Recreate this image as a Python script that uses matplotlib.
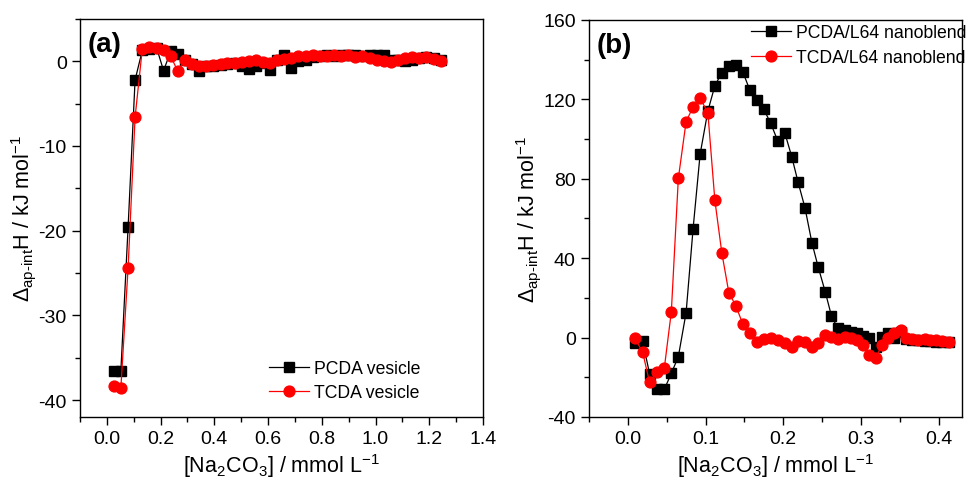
import matplotlib
matplotlib.use("Agg")
import matplotlib.pyplot as plt
from matplotlib.ticker import MultipleLocator, FormatStrFormatter

plt.rcParams["font.family"] = ["Liberation Sans", "DejaVu Sans"]
plt.rcParams["mathtext.fontset"] = "custom"
plt.rcParams["mathtext.rm"] = "Liberation Sans"
plt.rcParams["mathtext.it"] = "Liberation Sans:italic"
plt.rcParams["mathtext.bf"] = "Liberation Sans:bold"
plt.rcParams["axes.unicode_minus"] = False

# ---- panel (a): vesicles ----
conc_a = [0.025, 0.052, 0.079, 0.105, 0.132, 0.158, 0.185, 0.211, 0.238, 0.264,
          0.290, 0.317, 0.343, 0.370, 0.396, 0.423, 0.449, 0.476, 0.502, 0.528,
          0.555, 0.581, 0.608, 0.634, 0.661, 0.687, 0.713, 0.740, 0.766, 0.793,
          0.819, 0.846, 0.872, 0.898, 0.925, 0.951, 0.978, 1.004, 1.031, 1.057,
          1.083, 1.110, 1.136, 1.163, 1.189, 1.216, 1.242]
pcda_vesicle = [-36.6, -36.6, -19.6, -2.2, 1.3, 1.5, 1.6, -1.1, 1.2, 0.9,
                0.2, -0.3, -1.2, -0.6, -0.5, -0.4, -0.3, -0.2, -0.6, -0.9,
                -0.5, -0.2, -1.0, 0.2, 0.8, -0.8, 0.0, 0.2, 0.5, 0.6,
                0.7, 0.6, 0.7, 0.7, 0.8, 0.6, 0.7, 0.8, 0.7, 0.2,
                0.1, 0.0, 0.2, 0.4, 0.5, 0.4, 0.1]
tcda_vesicle = [-38.3, -38.6, -24.4, -6.6, 1.5, 1.7, 1.6, 1.3, 0.6, -1.2,
                0.2, -0.3, -0.5, -0.6, -0.4, -0.3, -0.2, -0.2, -0.1, 0.0,
                0.1, -0.1, -0.2, 0.2, 0.3, 0.4, 0.6, 0.6, 0.7, 0.6,
                0.6, 0.7, 0.6, 0.7, 0.5, 0.6, 0.4, 0.2, 0.0, -0.1,
                0.2, 0.4, 0.5, 0.4, 0.5, 0.3, 0.0]

# ---- panel (b): L64 nanoblends ----
conc_b = [0.009, 0.019, 0.028, 0.037, 0.047, 0.056, 0.065, 0.075, 0.084, 0.093,
          0.103, 0.112, 0.121, 0.130, 0.139, 0.148, 0.157, 0.166, 0.175, 0.184,
          0.193, 0.202, 0.211, 0.219, 0.228, 0.237, 0.245, 0.254, 0.262, 0.270,
          0.279, 0.287, 0.295, 0.303, 0.311, 0.319, 0.327, 0.335, 0.343, 0.351,
          0.358, 0.366, 0.374, 0.382, 0.389, 0.397, 0.405, 0.413]
pcda_blend = [-2.5, -1.7, -18.3, -26.0, -26.0, -18.0, -9.6, 12.6, 54.9, 92.3,
              114.1, 126.8, 133.5, 136.9, 137.4, 133.8, 124.7, 119.7, 115.0, 107.9,
              99.0, 103.2, 91.1, 78.5, 65.4, 47.7, 35.6, 23.2, 11.1, 4.7,
              3.9, 3.0, 2.2, 1.0, -0.3, -4.5, 0.5, 2.2, -0.3, 3.0,
              -0.5, -1.0, -1.2, -1.5, -1.8, -2.0, -2.0, -2.2]
tcda_blend = [-0.3, -7.3, -22.6, -17.2, -15.2, 13.1, 80.2, 108.8, 116.2, 120.6,
              113.3, 69.2, 42.6, 22.7, 16.0, 6.8, 2.5, -2.0, -0.5, -0.3,
              -1.0, -2.8, -4.5, -1.5, -2.0, -4.5, -2.5, 1.4, 0.5, -0.5,
              0.5, -0.3, -1.2, -3.7, -8.7, -10.4, -3.7, -0.3, 2.2, 3.9,
              -0.3, -0.8, -1.0, -0.8, -1.2, -1.0, -1.5, -2.0]

ylabel = r"$\Delta_{\mathrm{ap\text{-}int}}$H / kJ mol$^{-1}$"
xlabel = r"[Na$_2$CO$_3$] / mmol L$^{-1}$"

fig = plt.figure(figsize=(9.71, 4.89), dpi=100)
ax_a = fig.add_axes([0.0824, 0.1452, 0.415, 0.814])
ax_b = fig.add_axes([0.6066, 0.1452, 0.384, 0.812])

sq = dict(color="black", marker="s", markersize=6.8, linewidth=0.9)
ci = dict(color="red", marker="o", markersize=7.8, linewidth=0.9)

ax_a.plot(conc_a, pcda_vesicle, label="PCDA vesicle", **sq)
ax_a.plot(conc_a, tcda_vesicle, label="TCDA vesicle", **ci)
ax_b.plot(conc_b, pcda_blend, label="PCDA/L64 nanoblend", **sq)
ax_b.plot(conc_b, tcda_blend, label="TCDA/L64 nanoblend", **ci)

ax_a.set_xlim(-0.1, 1.4)
ax_a.set_ylim(-42, 5)
ax_a.xaxis.set_major_locator(MultipleLocator(0.2))
ax_a.xaxis.set_minor_locator(MultipleLocator(0.1))
ax_a.yaxis.set_major_locator(MultipleLocator(10))
ax_a.yaxis.set_minor_locator(MultipleLocator(5))

ax_b.set_xlim(-0.05, 0.43)
ax_b.set_ylim(-40, 160)
ax_b.xaxis.set_major_locator(MultipleLocator(0.1))
ax_b.xaxis.set_minor_locator(MultipleLocator(0.05))
ax_b.yaxis.set_major_locator(MultipleLocator(40))
ax_b.yaxis.set_minor_locator(MultipleLocator(20))

for ax in (ax_a, ax_b):
    ax.tick_params(which="both", direction="out", top=False, right=False,
                   labelsize=14, width=1)
    ax.tick_params(which="major", length=6)
    ax.tick_params(which="minor", length=3.5)
    for s in ax.spines.values():
        s.set_linewidth(1)
    ax.xaxis.set_major_formatter(FormatStrFormatter("%.1f"))
    ax.set_xlabel(xlabel, fontsize=15.5, labelpad=3)
    ax.set_ylabel(ylabel, fontsize=15.5, labelpad=0)

ax_a.text(0.02, 0.97, "(a)", transform=ax_a.transAxes, fontsize=20,
          fontweight="bold", va="top", ha="left")
ax_b.text(0.02, 0.97, "(b)", transform=ax_b.transAxes, fontsize=20,
          fontweight="bold", va="top", ha="left")

ax_a.legend(loc="lower right", bbox_to_anchor=(0.885, 0.0), frameon=False,
            fontsize=12.7, handlelength=2.25, handletextpad=0.3, labelspacing=0.4)
ax_b.legend(loc="upper right", bbox_to_anchor=(1.056, 1.03), frameon=False,
            fontsize=12.7, handlelength=2.25, handletextpad=0.3, labelspacing=0.45)

fig.savefig("out.png", dpi=100)
